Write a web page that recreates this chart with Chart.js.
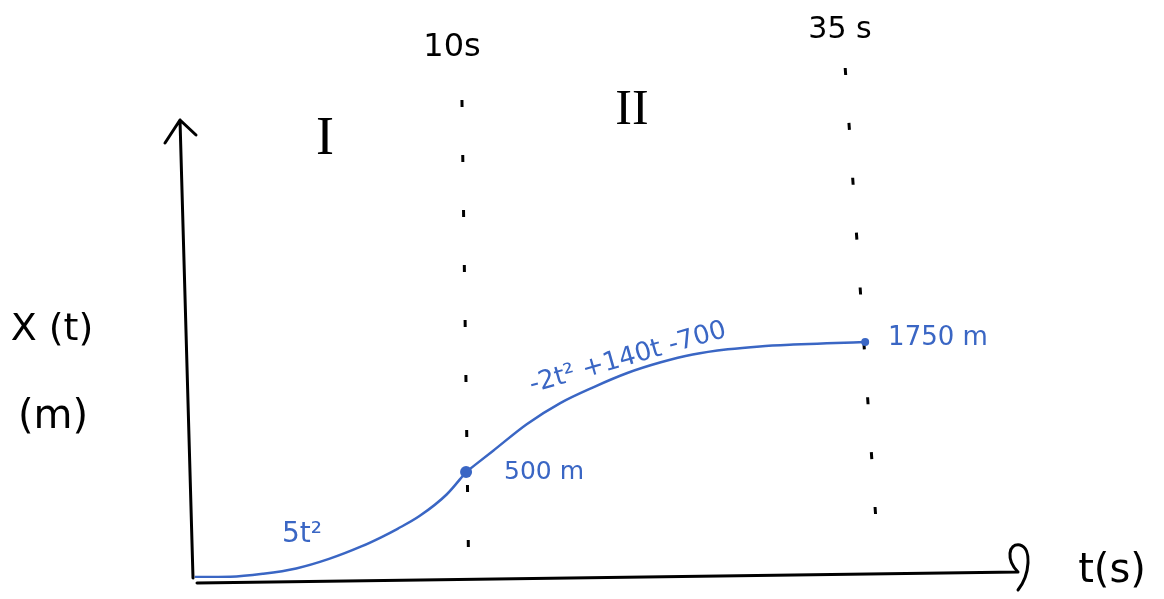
<!DOCTYPE html>
<html>
<head>
<meta charset="utf-8">
<script src="https://cdn.jsdelivr.net/npm/chart.js@4.4.1/dist/chart.umd.min.js"></script>
<style>
  html, body { margin: 0; padding: 0; background: #fff; }
  #wrap { width: 1164px; height: 599px; }
</style>
</head>
<body>
<div id="wrap"><canvas id="chart"></canvas></div>
<script>
// Phase I  (0 - 10 s): t in s, x in m
const phase1T = [0.1, 1.4, 2.6, 3.8, 5.0, 6.2, 6.9, 7.5, 8.3, 9.3, 10];
const phase1X = [5, 6, 20, 45, 90, 150, 192, 232, 292, 395, 500];
// Phase II (10 - 35 s)
const phase2T = [10, 11.7, 13.8, 15.9, 18.0, 20.1, 22.2, 24.2, 26.4, 28.4, 30.5, 32.6, 35];
const phase2X = [500, 705, 960, 1163, 1317, 1452, 1555, 1630, 1680, 1708, 1725, 1737, 1750];
// marked points
const markT = [10, 35];
const markX = [500, 1750];
// dotted boundaries at 10 s and 35 s (top end, bottom end)
const bound10T = [9.85, 10.15];
const bound35T = [33.75, 35.85];
const bound10X = [2575, 108];
const bound35X = [2684, 108];

const BLUE = '#3a66c4';

// the sketch is not drawn to scale, so the axes are piecewise linear
function toDecimal(knots, v) {
    let i = 0;
    while (i < knots.length - 2 && v > knots[i + 1][0]) i++;
    const a = knots[i], b = knots[i + 1];
    return a[1] + (v - a[0]) / (b[0] - a[0]) * (b[1] - a[1]);
}
function fromDecimal(knots, d) {
    let i = 0;
    while (i < knots.length - 2 && d > knots[i + 1][1]) i++;
    const a = knots[i], b = knots[i + 1];
    return a[0] + (d - a[1]) / (b[1] - a[1]) * (b[0] - a[0]);
}
class SketchScale extends Chart.LinearScale {
    static id = 'sketch';
    static defaults = {};
    getPixelForValue(value) {
        if (value === null || value === undefined) return NaN;
        return this.getPixelForDecimal(toDecimal(this.options.knots, value));
    }
    getValueForPixel(pixel) {
        return fromDecimal(this.options.knots, this.getDecimalForPixel(pixel));
    }
}
Chart.register(SketchScale);

const pts = (ts, xs) => ts.map((t, i) => ({ x: t, y: xs[i] }));

// hand drawn axes + labels
const sketchPlugin = {
    id: 'sketch',
    afterDraw(chart) {
        const ctx = chart.ctx;
        const a = chart.chartArea;
        ctx.save();
        ctx.strokeStyle = '#000';
        ctx.lineWidth = 3;
        ctx.lineCap = 'round';
        ctx.lineJoin = 'round';
        // y axis with arrow
        ctx.beginPath();
        ctx.moveTo(a.left + 1, a.bottom);
        ctx.lineTo(a.left - 12, a.top - 2);
        ctx.moveTo(a.left - 27, a.top + 21);
        ctx.lineTo(a.left - 12, a.top - 2);
        ctx.lineTo(a.left + 4, a.top + 13);
        ctx.stroke();
        // x axis with curled arrow
        ctx.beginPath();
        ctx.moveTo(a.left + 5, a.bottom + 5);
        ctx.lineTo(a.right - 2, a.bottom - 6);
        ctx.moveTo(a.right - 2, a.bottom - 6);
        ctx.bezierCurveTo(a.right - 14, a.bottom - 18, a.right - 12, a.bottom - 35, a.right, a.bottom - 33);
        ctx.bezierCurveTo(a.right + 12, a.bottom - 30, a.right + 10, a.bottom - 3, a.right - 2, a.bottom + 12);
        ctx.stroke();

        const txt = (s, x, y, size, color, family, rot) => {
            ctx.save();
            ctx.translate(x, y);
            if (rot) ctx.rotate(rot);
            ctx.font = size + 'px ' + (family || '"DejaVu Sans"');
            ctx.fillStyle = color;
            ctx.textAlign = 'center';
            ctx.textBaseline = 'middle';
            ctx.fillText(s, 0, 0);
            ctx.restore();
        };
        txt('10s', 452, 48, 32, '#000');
        txt('35 s', 840, 30, 30, '#000');
        txt('I', 325, 140, 54, '#000', '"Liberation Serif"');
        txt('II', 632, 111, 50, '#000', '"Liberation Serif"');
        txt('X (t)', 52, 330, 38, '#000');
        txt('(m)', 53, 418, 40, '#000');
        txt('t(s)', 1112, 572, 40, '#000');
        txt('1750 m', 938, 338, 26, BLUE);
        txt('500 m', 544, 472, 25, BLUE);
        txt('5t²', 302, 535, 28, BLUE);
        txt('-2t² +140t -700', 628, 358, 26, BLUE, null, -16 * Math.PI / 180);
        ctx.restore();
    }
};

new Chart(document.getElementById('chart'), {
    type: 'line',
    data: {
        datasets: [{
            data: pts(markT, markX),
            showLine: false,
            pointRadius: [6, 4],
            pointBackgroundColor: BLUE,
            pointBorderWidth: 0
        }, {
            data: pts(phase1T, phase1X),
            borderColor: BLUE,
            borderWidth: 2.5,
            pointRadius: 0,
            cubicInterpolationMode: 'monotone'
        }, {
            data: pts(phase2T, phase2X),
            borderColor: BLUE,
            borderWidth: 2.5,
            pointRadius: 0,
            cubicInterpolationMode: 'monotone'
        }, {
            data: pts(bound10T, bound10X),
            borderColor: '#000',
            borderWidth: 3,
            borderDash: [7, 48],
            pointRadius: 0,
            clip: false
        }, {
            data: pts(bound35T, bound35X),
            borderColor: '#000',
            borderWidth: 3,
            borderDash: [7, 48],
            pointRadius: 0,
            clip: false
        }]
    },
    options: {
        responsive: true,
        maintainAspectRatio: false,
        animation: false,
        layout: { padding: { left: 192, right: 144, top: 122, bottom: 21 } },
        scales: {
            x: { type: 'sketch', min: 0, max: 45, display: false,
                 knots: [[0, 0], [10, 0.331], [35, 0.813], [45, 1]] },
            y: { type: 'sketch', min: 0, max: 2500, display: false,
                 knots: [[0, 0], [500, 0.2325], [1750, 0.5175], [2500, 1]] }
        },
        plugins: {
            legend: { display: false },
            tooltip: { enabled: false }
        }
    },
    plugins: [sketchPlugin]
});
</script>
</body>
</html>
